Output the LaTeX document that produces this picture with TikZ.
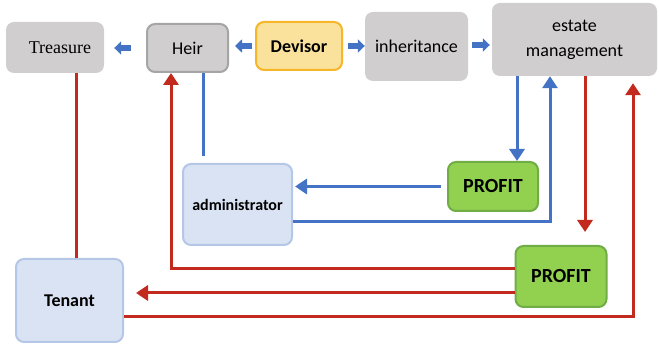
\documentclass[tikz,border=0pt]{standalone}
\usepackage{fontspec}
\setmainfont{Carlito}
\newfontfamily\timesfont{Liberation Serif}
\usetikzlibrary{arrows.meta}
\definecolor{boxgray}{HTML}{D0CECE}
\definecolor{heirline}{HTML}{A5A5A5}
\definecolor{devfill}{HTML}{FBE29C}
\definecolor{devline}{HTML}{F7B529}
\definecolor{profill}{HTML}{92D050}
\definecolor{proline}{HTML}{70AD47}
\definecolor{lightfill}{HTML}{DAE3F3}
\definecolor{lightline}{HTML}{B4C7E7}
\definecolor{flowblue}{HTML}{4472C4}
\definecolor{flowred}{HTML}{C22A1E}
\tikzset{
  box/.style={rounded corners=8pt, inner sep=0pt, align=center,
    font=\fontsize{18}{25}\selectfont},
  grey/.style={box, fill=boxgray},
  light/.style={box, fill=lightfill, draw=lightline, line width=2pt,
    font=\fontsize{18}{22}\selectfont\bfseries},
  profit/.style={box, fill=profill, draw=proline, line width=2pt,
    font=\fontsize{20}{24}\selectfont\bfseries},
  block/.style={flowblue, line width=6pt, -{Triangle[length=7pt,width=13pt]}},
  blueline/.style={flowblue, line width=3pt},
  bluearrow/.style={blueline, -{Triangle[length=12pt,width=15pt]}},
  redline/.style={flowred, line width=3pt},
  redarrow/.style={redline, -{Triangle[length=12pt,width=15pt]}}
}
\begin{document}
\begin{tikzpicture}[x=1pt, y=-1pt]
        \useasboundingbox (0,0) rectangle (659,347);
        % top row
        \node[grey, minimum width=98pt, minimum height=51pt, font=\fontsize{18}{22}\selectfont\timesfont] (treasure) at (55,47.5) {\hspace*{10pt}Treasure};
        \node[grey, draw=heirline, line width=2pt, minimum width=81pt, minimum height=48pt] (heir) at (187.5,48) {Heir};
        \node[box, fill=devfill, draw=devline, line width=2pt, minimum width=86pt, minimum height=48pt, font=\fontsize{18}{22}\selectfont\bfseries] (devisor) at (299,46) {Devisor};
        \node[grey, minimum width=103pt, minimum height=69pt] (inherit) at (416.5,46.5) {inheritance};
        \node[grey, minimum width=165pt, minimum height=73pt] (estate) at (574.5,39.5) {estate\\management};
        % lower part
        \node[profit, minimum width=90pt, minimum height=49pt] (prof1) at (493,186.5) {PROFIT};
        \node[light, minimum width=109pt, minimum height=81pt, font=\fontsize{16}{20}\selectfont\bfseries] (admin) at (237.5,204.5) {administrator};
        \node[profit, minimum width=91pt, minimum height=61pt] (prof2) at (561,276.5) {PROFIT};
        \node[light, minimum width=107pt, minimum height=83pt] (tenant) at (69.5,300.5) {Tenant};
        % block arrows along the top
        \draw[block, shorten <=15pt, shorten >=10pt] (heir.west) -- (heir.west -| treasure.east);
        \draw[block, shorten <=3pt, shorten >=6pt] (devisor.west) -- (devisor.west -| heir.east);
        \draw[block, shorten <=5pt] (devisor.east) -- (devisor.east -| inherit.west);
        \draw[block, shorten <=4pt, shorten >=2pt] ([yshift=1.5pt]inherit.east) -- ([yshift=1.5pt]inherit.east -| estate.west);
        % blue flows
        \draw[bluearrow] ([xshift=24pt]prof1.north |- estate.south) -- ([xshift=24pt]prof1.north);
        \draw[bluearrow, shorten <=6pt, shorten >=2pt] (prof1.west) -- (prof1.west -| admin.east);
        \draw[bluearrow] ([yshift=-17.5pt]admin.east) -| ([xshift=-24.5pt]estate.south);
        \draw[blueline, shorten <=7pt] ([xshift=-34.5pt]admin.north) -- ([xshift=-34.5pt]admin.north |- heir.south);
        % red flows
        \draw[redarrow, shorten >=13pt] ([xshift=10.5pt]estate.south) -- ([xshift=10.5pt]estate.south |- prof2.north);
        \draw[redarrow] ([yshift=7.5pt]prof2.west) -| ([xshift=-16.5pt]heir.south);
        \draw[redarrow, shorten >=12pt] ([yshift=-16.5pt]prof2.west) -- ([yshift=-16.5pt]prof2.west -| tenant.east);
        \draw[redarrow, shorten >=7pt] ([yshift=-16.5pt]tenant.east) -| ([xshift=58.5pt]estate.south);
        \draw[redline] ([xshift=21pt]treasure.south) -- ([xshift=21pt]treasure.south |- tenant.north);
\end{tikzpicture}
\end{document}
